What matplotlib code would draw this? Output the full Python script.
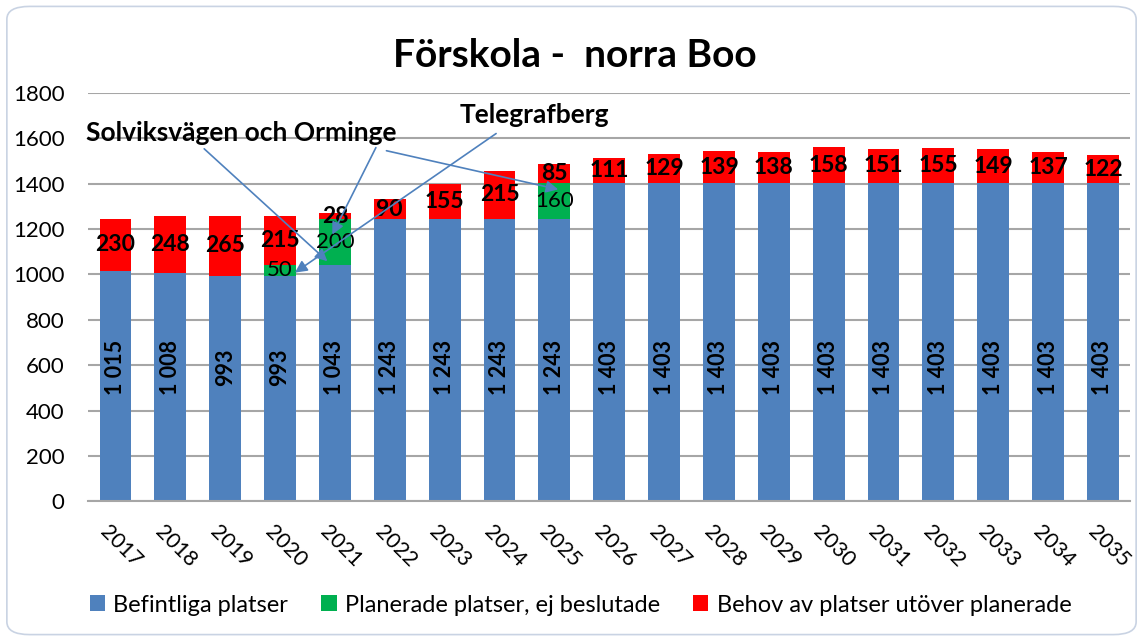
import matplotlib.pyplot as plt
import matplotlib.transforms as mtrans
import numpy as np
from matplotlib.patches import FancyBboxPatch

plt.rcParams['font.family'] = ['Lato', 'DejaVu Sans']

# data
years = [str(y) for y in range(2017, 2036)]
befintliga = [1015, 1008, 993, 993, 1043, 1243, 1243, 1243, 1243,
              1403, 1403, 1403, 1403, 1403, 1403, 1403, 1403, 1403, 1403]
planerade = [0, 0, 0, 50, 200, 0, 0, 0, 160,
             0, 0, 0, 0, 0, 0, 0, 0, 0, 0]
behov = [230, 248, 265, 215, 28, 90, 155, 215, 85,
         111, 129, 139, 138, 158, 151, 155, 149, 137, 122]

c_blue = '#4F81BD'
c_green = '#00B050'
c_red = '#FF0000'

fig = plt.figure(figsize=(11.43, 6.41), dpi=100)
ax = fig.add_axes([0.077, 0.218, 0.912, 0.637])

x = np.arange(len(years))
w = 0.58
bef = np.array(befintliga)
pla = np.array(planerade)
beh = np.array(behov)

ax.bar(x, bef, w, color=c_blue, label='Befintliga platser', zorder=2)
ax.bar(x, pla, w, bottom=bef, color=c_green, label='Planerade platser, ej beslutade', zorder=2)
ax.bar(x, beh, w, bottom=bef + pla, color=c_red, label='Behov av platser utöver planerade', zorder=2)

def fmt(v):
    return '{:,}'.format(v).replace(',', ' ')

for i in range(len(x)):
    ax.text(x[i], 590, fmt(bef[i]), rotation=90, ha='center', va='center',
            fontsize=15.5, fontweight='bold', zorder=4)
    if pla[i] > 0:
        ax.text(x[i], bef[i] + pla[i] / 2, str(pla[i]), ha='center', va='center',
                fontsize=16, zorder=4)
    ax.text(x[i], bef[i] + pla[i] + beh[i] / 2, str(beh[i]), ha='center', va='center',
            fontsize=16.5, fontweight='bold', zorder=4)

# annotations
arr = dict(arrowstyle='-|>', color=c_blue, lw=1.2, mutation_scale=18)
ax.text(2.3, 1623, 'Solviksvägen och Orminge', ha='center', va='center',
        fontsize=19, fontweight='bold', zorder=5)
ax.text(7.63, 1703, 'Telegrafberg', ha='center', va='center',
        fontsize=19, fontweight='bold', zorder=5)
ax.annotate('', xy=(3.90, 1050), xytext=(1.58, 1562), arrowprops=arr, zorder=5)
ax.annotate('', xy=(3.93, 1165), xytext=(4.77, 1570), arrowprops=arr, zorder=5)
ax.annotate('', xy=(8.12, 1372), xytext=(4.89, 1548), arrowprops=arr, zorder=5)
ax.annotate('', xy=(3.23, 1001), xytext=(6.98, 1628), arrowprops=arr, zorder=5)

ax.set_xlim(-0.5, 18.5)
ax.set_ylim(0, 1800)
ax.set_yticks(range(0, 1801, 200))
ax.tick_params(axis='y', length=0, labelsize=16, pad=17)
ax.tick_params(axis='x', length=0, labelsize=15.5, pad=20)
ax.set_xticks(x)
ax.set_xticklabels(years, rotation=-45, ha='left', va='center', rotation_mode='anchor')
shift = mtrans.ScaledTranslation(-12 / 100, 0, fig.dpi_scale_trans)
for lab in ax.get_xticklabels():
    lab.set_transform(lab.get_transform() + shift)
ax.grid(axis='y', color='#A6A6A6', lw=1.5, zorder=0)
ax.set_axisbelow(True)
for s in ['top', 'right', 'left']:
    ax.spines[s].set_visible(False)
ax.spines['bottom'].set_color('#A6A6A6')
ax.spines['bottom'].set_linewidth(1.5)

fig.text(0.503, 0.913, 'Förskola -  norra Boo', ha='center', va='center',
         fontsize=28, fontweight='bold')

fig.legend(loc='center', bbox_to_anchor=(0.508, 0.056), ncol=3, frameon=False,
           fontsize=17, handlelength=0.65, handleheight=0.65, handletextpad=0.35,
           columnspacing=1.4)

border = FancyBboxPatch((0.006, 0.01), 0.988, 0.98, boxstyle='round,pad=0,rounding_size=0.02',
                        transform=fig.transFigure, fill=False, edgecolor='#C9D3E3', lw=1.2)
fig.patches.append(border)

fig.savefig('out.png', dpi=100)
